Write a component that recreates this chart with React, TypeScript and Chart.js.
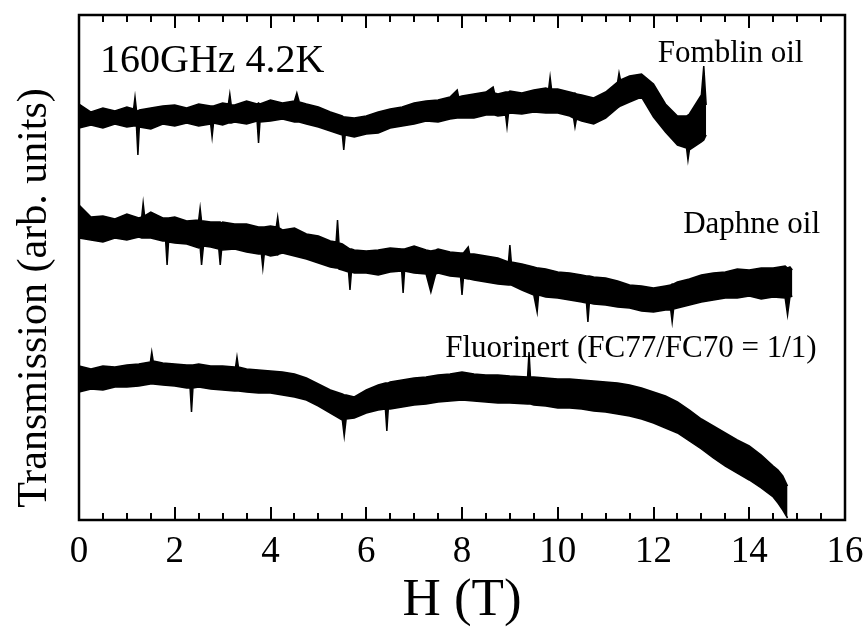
import React, { useEffect, useRef } from "react";
import { Chart, registerables } from "chart.js";

Chart.register(...registerables);

// Field H (T) and envelope (upper / lower edge of the noisy trace), arbitrary units
const fomblinH = [0, 0.25, 0.5, 0.75, 1.0, 1.14, 1.17, 1.2, 1.23, 1.26, 1.5, 1.75, 2.0, 2.25, 2.5, 2.75, 2.78, 2.81, 3.0, 3.12, 3.15, 3.18, 3.25, 3.5, 3.72, 3.75, 3.78, 4.0, 4.25, 4.5, 4.55, 4.6, 4.75, 5.0, 5.25, 5.5, 5.53, 5.56, 5.75, 6.0, 6.25, 6.5, 6.75, 7.0, 7.25, 7.5, 7.75, 7.9, 7.93, 8.0, 8.25, 8.5, 8.65, 8.68, 8.75, 8.91, 8.94, 8.97, 9.0, 9.25, 9.5, 9.75, 9.81, 9.84, 9.87, 10.0, 10.25, 10.33, 10.36, 10.39, 10.5, 10.75, 11.0, 11.25, 11.28, 11.31, 11.5, 11.75, 12.0, 12.25, 12.5, 12.69, 12.72, 12.75, 13.0, 13.05, 13.1];
const fomblinHigh = [416, 408, 412, 409, 413, 411, 423, 410, 409, 410, 412, 414, 415, 412, 416, 414, 414, 414, 417, 416, 426, 415, 415, 419, 416, 417, 416, 420, 417, 419, 427, 418, 416, 413, 408, 404, 403, 403, 402, 404, 408, 411, 413, 417, 419, 420, 423, 430, 423, 424, 426, 428, 433, 427, 426, 428, 428, 428, 429, 427, 430, 432, 431, 443, 431, 431, 428, 427, 427, 426, 425, 422, 428, 438, 447, 440, 444, 446, 436, 416, 404, 404, 405, 406, 425, 454, 415];
const fomblinLow = [392, 395, 392, 396, 393, 394, 394, 394, 365, 393, 391, 396, 394, 397, 394, 396, 383, 397, 395, 397, 397, 397, 398, 396, 399, 377, 398, 399, 401, 398, 398, 398, 396, 393, 389, 385, 370, 385, 383, 386, 387, 392, 394, 396, 399, 398, 401, 402, 402, 402, 402, 405, 405, 405, 404, 405, 393, 406, 407, 406, 408, 407, 407, 407, 407, 407, 404, 402, 393, 401, 399, 396, 402, 412, 413, 414, 418, 423, 403, 388, 375, 372, 360, 370, 378, 380, 385];

const daphneH = [0, 0.25, 0.5, 0.75, 1.0, 1.25, 1.31, 1.34, 1.37, 1.5, 1.75, 1.81, 1.84, 1.87, 2.0, 2.25, 2.5, 2.53, 2.56, 2.6, 2.75, 2.92, 2.95, 2.98, 3.0, 3.25, 3.5, 3.75, 3.81, 3.84, 3.87, 4.0, 4.12, 4.15, 4.18, 4.25, 4.5, 4.75, 5.0, 5.25, 5.37, 5.4, 5.43, 5.5, 5.63, 5.66, 5.69, 5.75, 6.0, 6.25, 6.5, 6.74, 6.77, 6.8, 7.0, 7.25, 7.35, 7.45, 7.5, 7.75, 7.97, 8.0, 8.03, 8.13, 8.16, 8.25, 8.5, 8.75, 8.97, 9.0, 9.03, 9.25, 9.5, 9.57, 9.6, 9.75, 10.0, 10.25, 10.5, 10.6, 10.63, 10.66, 10.75, 11.0, 11.25, 11.5, 11.75, 12.0, 12.25, 12.36, 12.39, 12.42, 12.5, 12.75, 13.0, 13.25, 13.5, 13.75, 14.0, 14.25, 14.5, 14.75, 14.8, 14.85, 14.9];
const daphneHigh = [315, 303, 304, 301, 306, 302, 303, 317, 304, 308, 302, 302, 302, 302, 303, 299, 300, 312, 299, 299, 298, 298, 298, 297, 298, 296, 296, 293, 293, 293, 293, 294, 293, 303, 292, 290, 292, 286, 284, 279, 278, 300, 277, 276, 272, 271, 271, 270, 269, 270, 272, 271, 271, 271, 274, 270, 269, 270, 271, 268, 267, 267, 267, 273, 266, 266, 264, 262, 258, 275, 258, 256, 253, 252, 252, 251, 248, 247, 245, 244, 244, 244, 243, 242, 239, 235, 234, 232, 234, 235, 236, 236, 238, 241, 245, 247, 248, 251, 250, 252, 252, 254, 252, 253, 250];
const daphneLow = [282, 280, 278, 282, 280, 283, 282, 282, 282, 282, 279, 279, 255, 278, 277, 276, 272, 273, 255, 274, 273, 271, 255, 271, 270, 271, 268, 266, 266, 252, 266, 264, 265, 265, 266, 267, 264, 261, 257, 253, 252, 252, 251, 250, 248, 230, 248, 247, 247, 245, 248, 249, 227, 249, 247, 246, 228, 246, 247, 244, 243, 225, 242, 241, 241, 240, 238, 236, 235, 235, 235, 230, 225, 208, 225, 223, 222, 220, 218, 217, 198, 217, 216, 215, 213, 212, 209, 208, 210, 210, 198, 211, 212, 215, 218, 220, 222, 222, 224, 221, 223, 222, 205, 223, 224];

const fluorinertH = [0, 0.25, 0.5, 0.75, 1.0, 1.25, 1.49, 1.52, 1.55, 1.75, 2.0, 2.25, 2.32, 2.35, 2.38, 2.5, 2.75, 3.0, 3.25, 3.27, 3.3, 3.33, 3.5, 3.75, 4.0, 4.25, 4.5, 4.75, 5.0, 5.25, 5.5, 5.54, 5.58, 5.75, 6.0, 6.25, 6.4, 6.43, 6.46, 6.5, 6.75, 7.0, 7.25, 7.5, 7.75, 8.0, 8.25, 8.5, 8.75, 9.0, 9.37, 9.4, 9.43, 9.5, 9.75, 10.0, 10.25, 10.5, 10.75, 11.0, 11.25, 11.5, 11.75, 12.0, 12.25, 12.5, 12.75, 13.0, 13.25, 13.5, 13.75, 14.0, 14.25, 14.5, 14.6, 14.7, 14.8];
const fluorinertHigh = [154, 151, 154, 153, 155, 156, 158, 168, 159, 157, 156, 155, 155, 155, 155, 156, 154, 154, 153, 153, 163, 153, 151, 150, 149, 148, 146, 142, 136, 130, 126, 125, 125, 123, 130, 135, 137, 137, 137, 138, 140, 142, 143, 145, 146, 148, 146, 145, 145, 144, 143, 168, 143, 143, 142, 141, 141, 140, 139, 138, 137, 135, 132, 128, 124, 118, 110, 101, 94, 87, 80, 74, 65, 54, 50, 44, 34];
const fluorinertLow = [128, 131, 130, 133, 133, 134, 136, 136, 136, 135, 134, 132, 132, 108, 132, 133, 131, 130, 129, 129, 129, 129, 128, 127, 127, 125, 123, 120, 114, 107, 100, 84, 101, 102, 107, 110, 111, 89, 111, 111, 113, 115, 116, 118, 119, 120, 119, 118, 117, 117, 116, 116, 116, 115, 114, 112, 112, 111, 109, 108, 106, 104, 101, 97, 92, 87, 79, 71, 62, 54, 47, 40, 32, 23, 17, 10, 2];

const xTickLabels = ["0", "2", "4", "6", "8", "10", "12", "14", "16"];
const majorTickStep = 2;
const minorTickStep = 0.5;

const yAxisTitle = "Transmission (arb. units)";
const annotationTexts = ["160GHz 4.2K", "Fomblin oil", "Daphne oil", "Fluorinert (FC77/FC70 = 1/1)"];
const annotationX = [0.44, 12.09, 12.62, 7.65];
const annotationY = [448, 458, 287, 163];
const annotationSize = [40, 31, 31, 31];

const SERIF = "'Liberation Serif', 'DejaVu Serif', serif";

function pts(xs: number[], ys: number[]) {
  return xs.map((x, i) => ({ x, y: ys[i] }));
}

function band(label: string, xs: number[], hi: number[], lo: number[]) {
  return [
    {
      label: label + " (upper)",
      data: pts(xs, hi),
      borderColor: "#000",
      borderWidth: 1.5,
      pointRadius: 0,
      fill: false,
      tension: 0,
    },
    {
      label: label + " (lower)",
      data: pts(xs, lo),
      borderColor: "#000",
      borderWidth: 1.5,
      pointRadius: 0,
      fill: "-1",
      backgroundColor: "#000",
      tension: 0,
    },
  ];
}

const framePlugin = {
  id: "frame",
  afterDatasetsDraw(chart: any) {
    const { ctx, chartArea } = chart;
    const xs = chart.scales.x;
    const ys = chart.scales.y;
    ctx.save();
    ctx.strokeStyle = "#000";
    ctx.lineWidth = 2;
    for (let v = xs.min; v <= xs.max + 1e-9; v += minorTickStep) {
      const px = Math.round(xs.getPixelForValue(v));
      const major = Math.abs(v / majorTickStep - Math.round(v / majorTickStep)) < 1e-6;
      const len = major ? 13 : 7;
      ctx.beginPath();
      ctx.moveTo(px, chartArea.bottom);
      ctx.lineTo(px, chartArea.bottom - len);
      ctx.moveTo(px, chartArea.top);
      ctx.lineTo(px, chartArea.top + len);
      ctx.stroke();
    }
    ctx.lineWidth = 2.5;
    ctx.strokeRect(chartArea.left, chartArea.top, chartArea.right - chartArea.left, chartArea.bottom - chartArea.top);

    ctx.fillStyle = "#000";
    ctx.textAlign = "left";
    ctx.textBaseline = "alphabetic";
    annotationTexts.forEach((t, i) => {
      ctx.font = `${annotationSize[i]}px ${SERIF}`;
      ctx.fillText(t, xs.getPixelForValue(annotationX[i]), ys.getPixelForValue(annotationY[i]));
    });

    // y-axis title
    ctx.save();
    ctx.translate(35, 298);
    ctx.rotate(-Math.PI / 2);
    ctx.font = `42px ${SERIF}`;
    ctx.textAlign = "center";
    ctx.textBaseline = "middle";
    ctx.fillText(yAxisTitle, 0, 0);
    ctx.restore();
    ctx.restore();
  },
};

export default function App() {
  const ref = useRef<HTMLCanvasElement | null>(null);
  useEffect(() => {
    if (!ref.current) return;
    const chart = new Chart(ref.current, {
      type: "line",
      data: {
        datasets: [
          ...band("Fomblin oil", fomblinH, fomblinHigh, fomblinLow),
          ...band("Daphne oil", daphneH, daphneHigh, daphneLow),
          ...band("Fluorinert", fluorinertH, fluorinertHigh, fluorinertLow),
        ] as any,
      },
      options: {
        animation: false,
        responsive: false,
        layout: { padding: { top: 15, right: 23, left: 0, bottom: 0 } },
        plugins: { legend: { display: false }, tooltip: { enabled: false } },
        scales: {
          x: {
            type: "linear",
            min: 0,
            max: 16,
            grid: { display: false, drawTicks: false },
            border: { display: false },
            ticks: {
              stepSize: majorTickStep,
              color: "#000",
              font: { family: SERIF, size: 37 },
              padding: 10,
              maxRotation: 0,
              callback: (v: any) => xTickLabels[Math.round(Number(v) / majorTickStep)] ?? "",
            },
            title: {
              display: true,
              text: "H (T)",
              color: "#000",
              font: { family: SERIF, size: 53, lineHeight: 1.0 },
              padding: { top: 0, bottom: 0 },
            },
            afterFit: (s: any) => {
              s.height = 108;
              s.paddingLeft = 0;
              s.paddingRight = 0;
            },
          },
          y: {
            type: "linear",
            min: 0,
            max: 505,
            grid: { display: false, drawTicks: false },
            border: { display: false },
            ticks: { display: false },
            title: { display: false },
            afterFit: (s: any) => {
              s.width = 79;
            },
          },
        },
      } as any,
      plugins: [framePlugin],
    });
    return () => chart.destroy();
  }, []);
  return (
    <div style={{ position: "fixed", left: 0, top: 0, width: 868, height: 628, background: "#fff" }}>
      <canvas ref={ref} width={868} height={628} style={{ width: 868, height: 628, display: "block" }} />
    </div>
  );
}
